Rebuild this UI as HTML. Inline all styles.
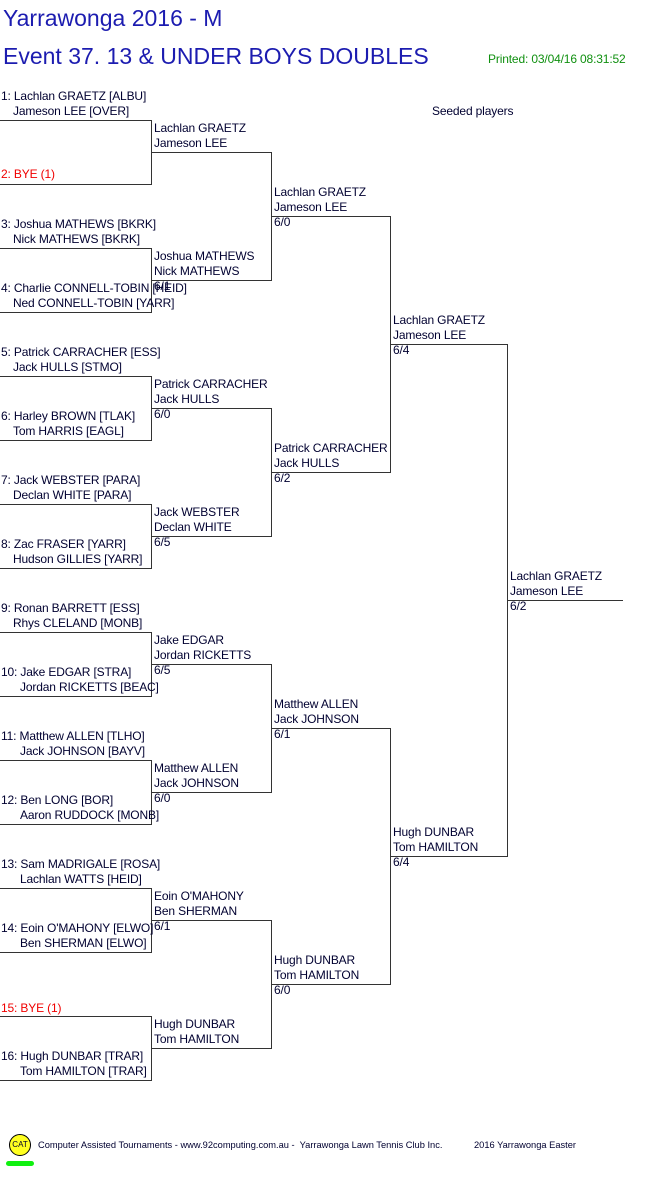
<!DOCTYPE html>
<html><head><meta charset="utf-8"><style>
body{margin:0;width:661px;height:1196px;background:#fff;position:relative;overflow:hidden;font-family:"Liberation Sans",Arial,sans-serif;color:#000030}
.t{position:absolute;font-size:12px;line-height:15px;white-space:nowrap;letter-spacing:-0.15px;margin-top:1px}
.h{position:absolute;height:1px;background:#333}
.v{position:absolute;width:1px;background:#333}
.r{color:#f00000}
</style></head><body>
<div class="t" style="left:3px;top:4px;font-size:23px;line-height:26px;color:#1c1cb0;letter-spacing:0">Yarrawonga 2016 - M</div>
<div class="t" style="left:3px;top:42px;font-size:23px;line-height:26px;color:#1c1cb0;letter-spacing:0">Event 37. 13 &amp; UNDER BOYS DOUBLES</div>
<div class="t" style="left:488px;top:51px;color:#109010">Printed: 03/04/16 08:31:52</div>
<div class="t" style="left:432px;top:103px">Seeded players</div>

<div class="h" style="left:0;top:120px;width:152px"></div><div class="h" style="left:0;top:184px;width:152px"></div>
<div class="h" style="left:0;top:248px;width:152px"></div><div class="h" style="left:0;top:312px;width:152px"></div>
<div class="h" style="left:0;top:376px;width:152px"></div><div class="h" style="left:0;top:440px;width:152px"></div>
<div class="h" style="left:0;top:504px;width:152px"></div><div class="h" style="left:0;top:568px;width:152px"></div>
<div class="h" style="left:0;top:632px;width:152px"></div><div class="h" style="left:0;top:696px;width:152px"></div>
<div class="h" style="left:0;top:760px;width:152px"></div><div class="h" style="left:0;top:824px;width:152px"></div>
<div class="h" style="left:0;top:888px;width:152px"></div><div class="h" style="left:0;top:952px;width:152px"></div>
<div class="h" style="left:0;top:1016px;width:152px"></div><div class="h" style="left:0;top:1080px;width:152px"></div>
<div class="v" style="left:151px;top:120px;height:65px"></div><div class="v" style="left:151px;top:248px;height:65px"></div>
<div class="v" style="left:151px;top:376px;height:65px"></div><div class="v" style="left:151px;top:504px;height:65px"></div>
<div class="v" style="left:151px;top:632px;height:65px"></div><div class="v" style="left:151px;top:760px;height:65px"></div>
<div class="v" style="left:151px;top:888px;height:65px"></div><div class="v" style="left:151px;top:1016px;height:65px"></div>
<div class="h" style="left:151px;top:152px;width:121px"></div><div class="h" style="left:151px;top:280px;width:121px"></div>
<div class="h" style="left:151px;top:408px;width:121px"></div><div class="h" style="left:151px;top:536px;width:121px"></div>
<div class="h" style="left:151px;top:664px;width:121px"></div><div class="h" style="left:151px;top:792px;width:121px"></div>
<div class="h" style="left:151px;top:920px;width:121px"></div><div class="h" style="left:151px;top:1048px;width:121px"></div>
<div class="v" style="left:271px;top:152px;height:129px"></div><div class="v" style="left:271px;top:408px;height:129px"></div>
<div class="v" style="left:271px;top:664px;height:129px"></div><div class="v" style="left:271px;top:920px;height:129px"></div>
<div class="h" style="left:271px;top:216px;width:120px"></div><div class="h" style="left:271px;top:472px;width:120px"></div>
<div class="h" style="left:271px;top:728px;width:120px"></div><div class="h" style="left:271px;top:984px;width:120px"></div>
<div class="v" style="left:390px;top:216px;height:257px"></div><div class="v" style="left:390px;top:728px;height:257px"></div>
<div class="h" style="left:390px;top:344px;width:118px"></div><div class="h" style="left:390px;top:856px;width:118px"></div>
<div class="v" style="left:507px;top:344px;height:513px"></div>
<div class="h" style="left:507px;top:600px;width:116px"></div>

<div class="t" style="left:1px;top:88px">1: Lachlan GRAETZ [ALBU]</div><div class="t" style="left:13px;top:103px">Jameson LEE [OVER]</div>
<div class="t r" style="left:1px;top:166px">2: BYE (1)</div>
<div class="t" style="left:1px;top:216px">3: Joshua MATHEWS [BKRK]</div><div class="t" style="left:13px;top:231px">Nick MATHEWS [BKRK]</div>
<div class="t" style="left:1px;top:280px">4: Charlie CONNELL-TOBIN [HEID]</div><div class="t" style="left:13px;top:295px">Ned CONNELL-TOBIN [YARR]</div>
<div class="t" style="left:1px;top:344px">5: Patrick CARRACHER [ESS]</div><div class="t" style="left:13px;top:359px">Jack HULLS [STMO]</div>
<div class="t" style="left:1px;top:408px">6: Harley BROWN [TLAK]</div><div class="t" style="left:13px;top:423px">Tom HARRIS [EAGL]</div>
<div class="t" style="left:1px;top:472px">7: Jack WEBSTER [PARA]</div><div class="t" style="left:13px;top:487px">Declan WHITE [PARA]</div>
<div class="t" style="left:1px;top:536px">8: Zac FRASER [YARR]</div><div class="t" style="left:13px;top:551px">Hudson GILLIES [YARR]</div>
<div class="t" style="left:1px;top:600px">9: Ronan BARRETT [ESS]</div><div class="t" style="left:13px;top:615px">Rhys CLELAND [MONB]</div>
<div class="t" style="left:1px;top:664px">10: Jake EDGAR [STRA]</div><div class="t" style="left:20px;top:679px">Jordan RICKETTS [BEAC]</div>
<div class="t" style="left:1px;top:728px">11: Matthew ALLEN [TLHO]</div><div class="t" style="left:20px;top:743px">Jack JOHNSON [BAYV]</div>
<div class="t" style="left:1px;top:792px">12: Ben LONG [BOR]</div><div class="t" style="left:20px;top:807px">Aaron RUDDOCK [MONB]</div>
<div class="t" style="left:1px;top:856px">13: Sam MADRIGALE [ROSA]</div><div class="t" style="left:20px;top:871px">Lachlan WATTS [HEID]</div>
<div class="t" style="left:1px;top:920px">14: Eoin O'MAHONY [ELWO]</div><div class="t" style="left:20px;top:935px">Ben SHERMAN [ELWO]</div>
<div class="t r" style="left:1px;top:1000px">15: BYE (1)</div>
<div class="t" style="left:1px;top:1048px">16: Hugh DUNBAR [TRAR]</div><div class="t" style="left:20px;top:1063px">Tom HAMILTON [TRAR]</div>

<div class="t" style="left:154px;top:120px">Lachlan GRAETZ<br>Jameson LEE</div>
<div class="t" style="left:154px;top:248px">Joshua MATHEWS<br>Nick MATHEWS<br>6/1</div>
<div class="t" style="left:154px;top:376px">Patrick CARRACHER<br>Jack HULLS<br>6/0</div>
<div class="t" style="left:154px;top:504px">Jack WEBSTER<br>Declan WHITE<br>6/5</div>
<div class="t" style="left:154px;top:632px">Jake EDGAR<br>Jordan RICKETTS<br>6/5</div>
<div class="t" style="left:154px;top:760px">Matthew ALLEN<br>Jack JOHNSON<br>6/0</div>
<div class="t" style="left:154px;top:888px">Eoin O'MAHONY<br>Ben SHERMAN<br>6/1</div>
<div class="t" style="left:154px;top:1016px">Hugh DUNBAR<br>Tom HAMILTON</div>
<div class="t" style="left:274px;top:184px">Lachlan GRAETZ<br>Jameson LEE<br>6/0</div>
<div class="t" style="left:274px;top:440px">Patrick CARRACHER<br>Jack HULLS<br>6/2</div>
<div class="t" style="left:274px;top:696px">Matthew ALLEN<br>Jack JOHNSON<br>6/1</div>
<div class="t" style="left:274px;top:952px">Hugh DUNBAR<br>Tom HAMILTON<br>6/0</div>
<div class="t" style="left:393px;top:312px">Lachlan GRAETZ<br>Jameson LEE<br>6/4</div>
<div class="t" style="left:393px;top:824px">Hugh DUNBAR<br>Tom HAMILTON<br>6/4</div>
<div class="t" style="left:510px;top:568px">Lachlan GRAETZ<br>Jameson LEE<br>6/2</div>

<div style="position:absolute;left:9px;top:1134px;width:20px;height:20px;border-radius:50%;background:#ffff20;border:1px solid #000;font-size:8px;line-height:20px;text-align:center;font-family:'Liberation Sans',sans-serif">CAT</div>
<div style="position:absolute;left:6px;top:1161px;width:28px;height:5px;border-radius:3px;background:#10f010"></div>
<div class="t" style="left:38px;top:1138px;font-size:9.3px;line-height:12px;letter-spacing:0">Computer Assisted Tournaments - www.92computing.com.au -&nbsp; Yarrawonga Lawn Tennis Club Inc.</div>
<div class="t" style="left:474px;top:1138px;font-size:9.3px;line-height:12px;letter-spacing:0">2016 Yarrawonga Easter</div>
</body></html>
